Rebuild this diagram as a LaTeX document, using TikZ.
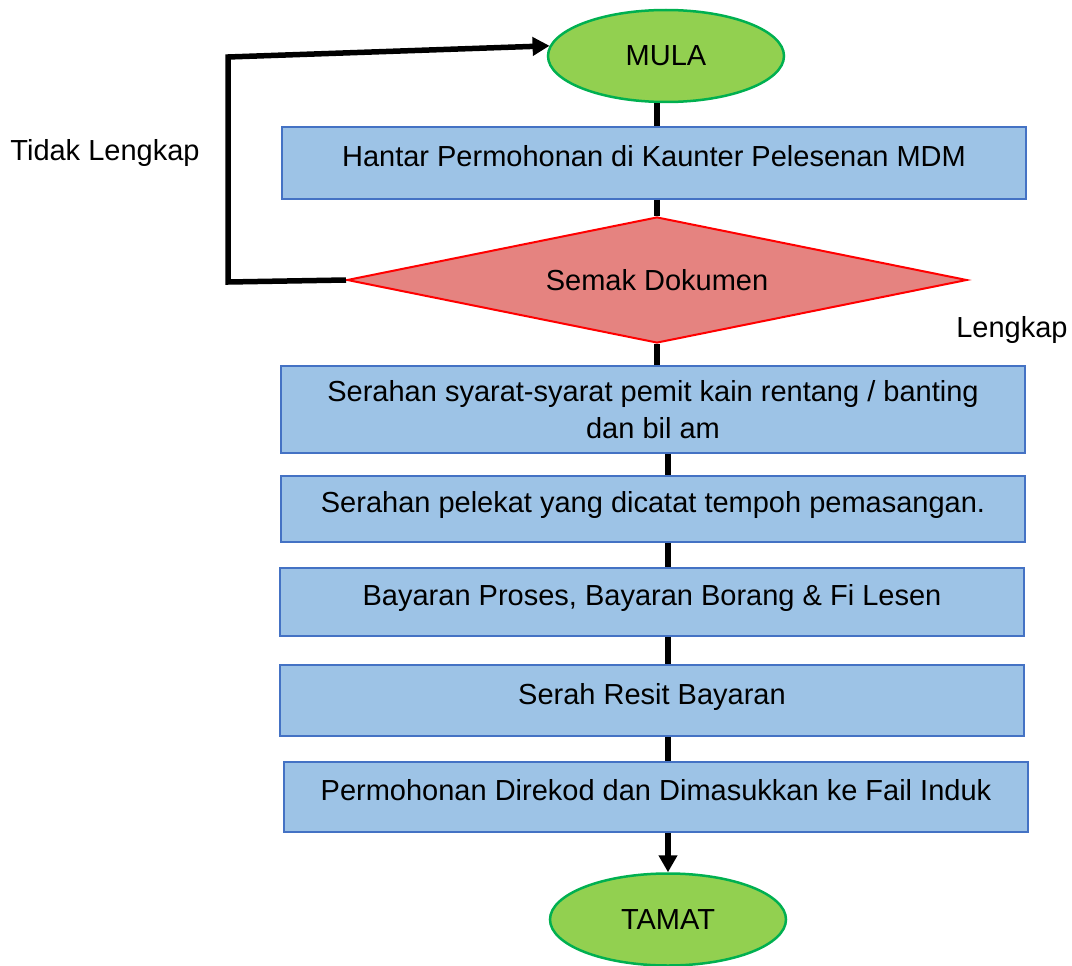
\documentclass[tikz,border=0pt]{standalone}
\usepackage{fontspec}
\setmainfont{Liberation Sans}
\usepackage{tikz}
\usetikzlibrary{shapes.geometric,arrows.meta}
\definecolor{hijau}{RGB}{146,208,80}
\definecolor{hijaugaris}{RGB}{0,176,80}
\definecolor{biru}{RGB}{157,195,230}
\definecolor{birugaris}{RGB}{68,114,196}
\definecolor{merah}{RGB}{229,131,128}
\tikzset{
	mulatamat/.style={ellipse, draw=hijaugaris, fill=hijau, line width=2.5pt, minimum width=236pt, minimum height=92pt, inner sep=0pt, font=\fontsize{29}{37}\selectfont},
	kotak/.style={rectangle, draw=birugaris, fill=biru, line width=1.5pt, minimum width=744pt, inner sep=0pt, align=center, font=\fontsize{29}{37}\selectfont},
	barissatu/.style={text height=21.75pt, text depth=14.5pt},
	semak/.style={diamond, draw=red, fill=merah, line width=2pt, minimum width=620pt, minimum height=126pt, aspect=5, inner sep=0pt, font=\fontsize{29}{37}\selectfont},
	keterangan/.style={inner sep=0pt, text height=21pt, text depth=0pt, font=\fontsize{29}{37}\selectfont},
	garis/.style={line width=5.5pt},
	anakpanah/.style={garis, -{Triangle[length=17pt,width=18pt]}}
}
\begin{document}
\begin{tikzpicture}[x=1pt, y=-1pt]
						\useasboundingbox (0,0) rectangle (1072,966);
						\node[mulatamat] (mula) at (666,56) {MULA};
						\node[kotak, barissatu, minimum height=72pt] (hantar) at (654,163) {Hantar Permohonan di Kaunter Pelesenan MDM};
						\node[semak] (dokumen) at (657,280) {Semak Dokumen};
						\node[kotak, minimum height=87pt] (syarat) at (653,409.5) {Serahan syarat-syarat pemit kain rentang / banting\\dan bil am};
						\node[kotak, barissatu, minimum height=66pt] (pelekat) at (653,509) {Serahan pelekat yang dicatat tempoh pemasangan.};
						\node[kotak, barissatu, minimum height=68pt] (bayaran) at (652,602) {Bayaran Proses, Bayaran Borang \& Fi Lesen};
						\node[kotak, barissatu, minimum height=71pt] (resit) at (652,700.5) {Serah Resit Bayaran};
						\node[kotak, barissatu, minimum height=70pt] (direkod) at (656,797) {Permohonan Direkod dan Dimasukkan ke Fail Induk};
						\node[mulatamat] (tamat) at (668,919.5) {TAMAT};
							\node[keterangan] (tidak) at (105,150) {Tidak Lengkap};
							\node[keterangan] (lengkap) at (1012,327) {Lengkap};
						\coordinate (sudutbawah) at (228,282);
						\coordinate (sudutatas) at (228,57);
						\draw[garis] (mula.south -| dokumen) -- (hantar.north -| dokumen);
						\draw[garis] (hantar.south -| dokumen) -- (dokumen.north);
						\draw[garis] (dokumen.south) -- (syarat.north -| dokumen);
						\draw[garis] (syarat.south -| tamat) -- (pelekat.north -| tamat);
						\draw[garis] (pelekat.south -| tamat) -- (bayaran.north -| tamat);
						\draw[garis] (bayaran.south -| tamat) -- (resit.north -| tamat);
						\draw[garis] (resit.south -| tamat) -- (direkod.north -| tamat);
						\draw[anakpanah] (direkod.south -| tamat) -- (tamat.north);
						\draw[anakpanah] (dokumen.west) -- (sudutbawah) -- (sudutatas) -- (mula.175);
					\end{tikzpicture}
\end{document}
